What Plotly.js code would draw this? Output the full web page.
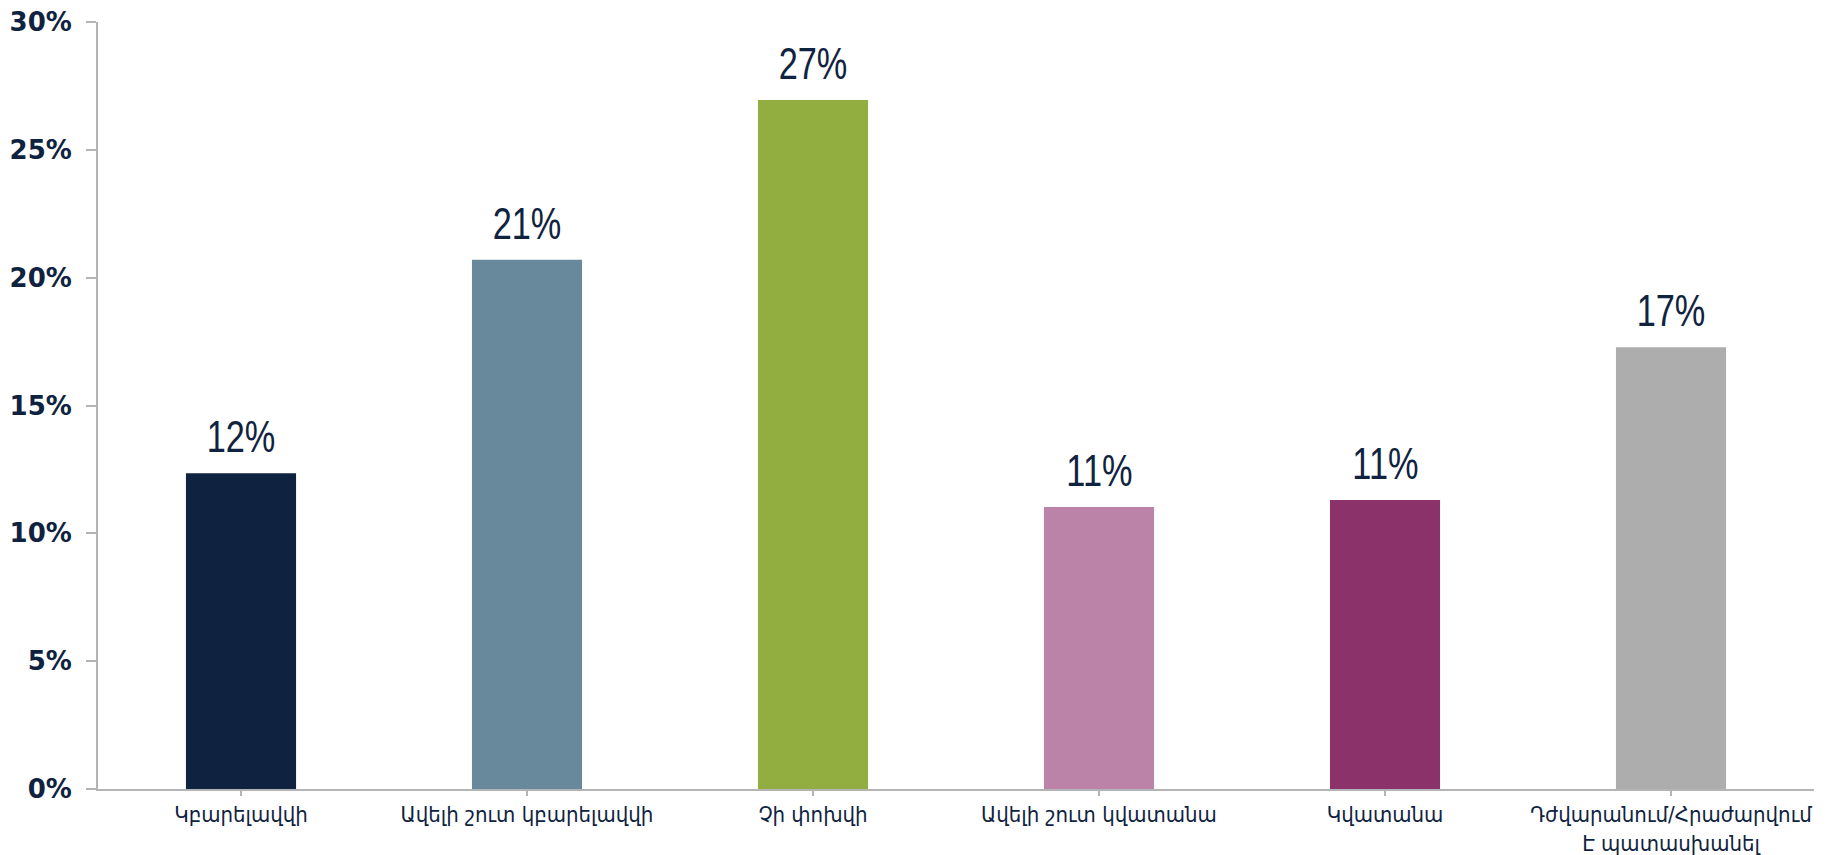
<!DOCTYPE html>
<html>
<head>
<meta charset="utf-8">
<script src="https://cdn.plot.ly/plotly-3.0.1.min.js"></script>
<style>
html,body{margin:0;padding:0;background:#fff;}
#chart{width:1828px;height:855px;}
#chart .annotation-text{transform-box:fill-box;transform-origin:center;transform:scaleX(0.78);}
</style>
</head>
<body>
<div id="chart"></div>
<script>
const categories = [
  "Կբարելավվի",
  "Ավելի շուտ կբարելավվի",
  "Չի փոխվի",
  "Ավելի շուտ կվատանա",
  "Կվատանա",
  "Դժվարանում/Հրաժարվում<br>Է պատասխանել"
];
const values = [0.1235, 0.207, 0.2695, 0.1103, 0.113, 0.1728];
const valueLabels = ["12%", "21%", "27%", "11%", "11%", "17%"];
const barColors = ["#0F2340", "#68899C", "#92AE40", "#BC83A8", "#8B326B", "#ADADAD"];
const yTickVals = [0, 0.05, 0.10, 0.15, 0.20, 0.25, 0.30];
const yTickText = ["0%", "5%", "10%", "15%", "20%", "25%", "30%"];

const navy = "#0F2340";

const trace = {
  type: "bar",
  x: categories,
  y: values,
  marker: { color: barColors, line: { width: 0 } },
  width: 0.385,
  hoverinfo: "none"
};

const annotations = categories.map((c, i) => ({
  x: c,
  y: values[i],
  xref: "x",
  yref: "y",
  text: valueLabels[i],
  showarrow: false,
  yanchor: "bottom",
  yshift: 10,
  font: { family: "Liberation Sans, sans-serif", size: 44, color: navy }
}));

const layout = {
  width: 1828,
  height: 855,
  margin: { l: 98, r: 14, t: 22, b: 66 },
  paper_bgcolor: "#ffffff",
  plot_bgcolor: "#ffffff",
  showlegend: false,
  xaxis: {
    type: "category",
    range: [-0.5, 5.5],
    showline: true,
    linecolor: "#B4B4B4",
    linewidth: 2,
    ticks: "outside",
    ticklen: 5,
    tickwidth: 2,
    tickcolor: "#B4B4B4",
    showgrid: false,
    zeroline: false,
    tickfont: { family: "DejaVu Sans Condensed, DejaVu Sans, sans-serif", size: 22, color: navy },
    fixedrange: true
  },
  yaxis: {
    range: [0, 0.30],
    tickvals: yTickVals,
    ticktext: yTickText,
    showline: true,
    linecolor: "#B4B4B4",
    linewidth: 2,
    ticks: "outside",
    ticklen: 10,
    tickwidth: 2,
    tickcolor: "#B4B4B4",
    showgrid: false,
    zeroline: false,
    ticklabelstandoff: 9,
    tickfont: { family: "DejaVu Sans, sans-serif", size: 26, color: navy, weight: "bold" },
    fixedrange: true
  },
  annotations: annotations
};

Plotly.newPlot("chart", [trace], layout, { displayModeBar: false, staticPlot: true });
</script>
</body>
</html>
